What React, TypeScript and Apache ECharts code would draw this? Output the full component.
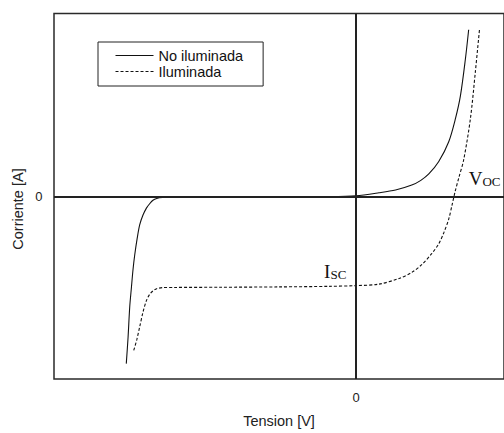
import React, { useEffect, useRef } from "react";
import * as echarts from "echarts";

// Axis extents (tension in arbitrary units, corriente normalised)
const xMin = -3;
const xMax = 1.47;
const yMin = -1;
const yMax = 1;

const seriesNames = ["No iluminada", "Iluminada"];
const xTicks = [0];
const yTicks = [0];

// Dark (no iluminada) I-V curve
const darkV = [
  -2.282, -2.264, -2.248, -2.231, -2.215, -2.198, -2.173, -2.149, -2.116, -2.082,
  -2.05, -2.017, -1.98, -1.921, -1.802, -1.356, -0.762, -0.267, 0, 0.228,
  0.393, 0.554, 0.644, 0.723, 0.822, 0.921, 0.987, 1.037, 1.086, 1.119,
];
const darkI = [
  -0.916, -0.77, -0.607, -0.499, -0.401, -0.32, -0.228, -0.157, -0.103, -0.065,
  -0.041, -0.022, -0.012, -0.007, -0.005, -0.005, -0.004, -0.002, 0.003, 0.019,
  0.034, 0.061, 0.087, 0.122, 0.19, 0.298, 0.423, 0.549, 0.748, 0.911,
];

// Illuminated I-V curve
const lightV = [
  -2.208, -2.178, -2.149, -2.116, -2.082, -2.05, -2.017, -1.98, -1.921, -1.802,
  -1.356, -0.762, -0.267, 0, 0.228, 0.426, 0.554, 0.653, 0.752, 0.822,
  0.871, 0.921, 0.956, 0.985, 1.022, 1.07, 1.136, 1.185, 1.228,
];
const lightI = [
  -0.843, -0.786, -0.715, -0.634, -0.571, -0.537, -0.518, -0.506, -0.5, -0.499,
  -0.498, -0.496, -0.493, -0.489, -0.481, -0.45, -0.417, -0.374, -0.314, -0.26,
  -0.201, -0.125, -0.043, 0.027, 0.103, 0.201, 0.423, 0.678, 0.921,
];

// Annotation anchors (data coordinates)
const vocAnchor = [1.119, 0.0976];
const iscAnchor = [-0.317, -0.409];

const zip = (a: number[], b: number[]) => a.map((v, i) => [v, b[i]]);

export default function App() {
  const ref = useRef<HTMLDivElement>(null);
  useEffect(() => {
    const chart = echarts.init(ref.current!, null, { renderer: "svg" });
    const sans = "Liberation Sans, Arial, sans-serif";
    const serif = "Liberation Serif, Times New Roman, serif";
    const richLabel = {
      big: { fontFamily: serif, fontSize: 19, lineHeight: 20, color: "#111", verticalAlign: "bottom" },
      sub: { fontFamily: serif, fontSize: 13, lineHeight: 14, color: "#111", verticalAlign: "bottom" },
    };
    chart.setOption({
      animation: false,
      backgroundColor: "#fff",
      grid: {
        left: 54,
        right: -1.5,
        top: 13.5,
        bottom: 50.5,
        show: true,
        borderColor: "#2a2a2a",
        borderWidth: 1.5,
        backgroundColor: "transparent",
      },
      legend: {
        orient: "vertical",
        left: 98,
        top: 42,
        padding: [6, 20, 7, 17],
        itemWidth: 38,
        itemHeight: 14,
        itemGap: 1,
        borderColor: "#222",
        borderWidth: 1,
        borderRadius: 0,
        data: seriesNames,
        itemStyle: { opacity: 0 },
        lineStyle: { width: 1 },
        textStyle: { fontFamily: sans, fontSize: 14.5, color: "#111" },
      },
      xAxis: {
        type: "value",
        min: xMin,
        max: xMax,
        name: "Tension [V]",
        nameLocation: "middle",
        nameGap: 34,
        nameTextStyle: { fontFamily: sans, fontSize: 14.5, color: "#222" },
        axisLine: { show: false },
        splitLine: { show: false },
        axisTick: { show: true, customValues: xTicks, length: 7, lineStyle: { color: "#222", width: 1.5 } },
        axisLabel: { customValues: xTicks, margin: 12, fontFamily: sans, fontSize: 13, color: "#222", formatter: (v: number) => String(v) },
      },
      yAxis: {
        type: "value",
        min: yMin,
        max: yMax,
        axisLine: { show: false },
        splitLine: { show: false },
        axisTick: { show: true, customValues: yTicks, length: 7, lineStyle: { color: "#222", width: 1.5 } },
        axisLabel: { customValues: yTicks, margin: 11.5, fontFamily: sans, fontSize: 13, color: "#222", formatter: (v: number) => String(v) },
      },
      graphic: [
        {
          type: "text",
          x: 17.5,
          y: 209,
          rotation: Math.PI / 2,
          style: {
            text: "Corriente [A]",
            fontFamily: sans,
            fontSize: 14.5,
            fill: "#222",
            align: "center",
            verticalAlign: "middle",
          },
        },
      ],
      series: [
        {
          name: seriesNames[0],
          type: "line",
          data: zip(darkV, darkI),
          smooth: 0.3,
          symbol: "none",
          lineStyle: { color: "#111", width: 1.1, type: "solid" },
          itemStyle: { color: "#111" },
          z: 3,
          markLine: {
            silent: true,
            symbol: ["none", "none"],
            label: { show: false },
            lineStyle: { type: "solid", color: "#222", width: 2 },
            data: [{ xAxis: 0 }, { yAxis: 0 }],
          },
          markPoint: {
            silent: true,
            symbol: "circle",
            symbolSize: 0,
            label: {
              show: true,
              position: "right",
              distance: 0,
              rich: richLabel,
            },
            data: [
              { coord: vocAnchor, label: { formatter: "{big|V}{sub|OC}" } },
              { coord: iscAnchor, label: { formatter: "{big|I}{sub|SC}" } },
            ],
          },
        },
        {
          name: seriesNames[1],
          type: "line",
          data: zip(lightV, lightI),
          smooth: 0.3,
          symbol: "none",
          lineStyle: { color: "#111", width: 1.1, type: [3, 2] },
          itemStyle: { color: "#111" },
          z: 3,
        },
      ],
    });
    return () => chart.dispose();
  }, []);
  return (
    <div
      ref={ref}
      style={{ position: "fixed", left: 0, top: 0, width: 504, height: 433, background: "#fff" }}
    />
  );
}
